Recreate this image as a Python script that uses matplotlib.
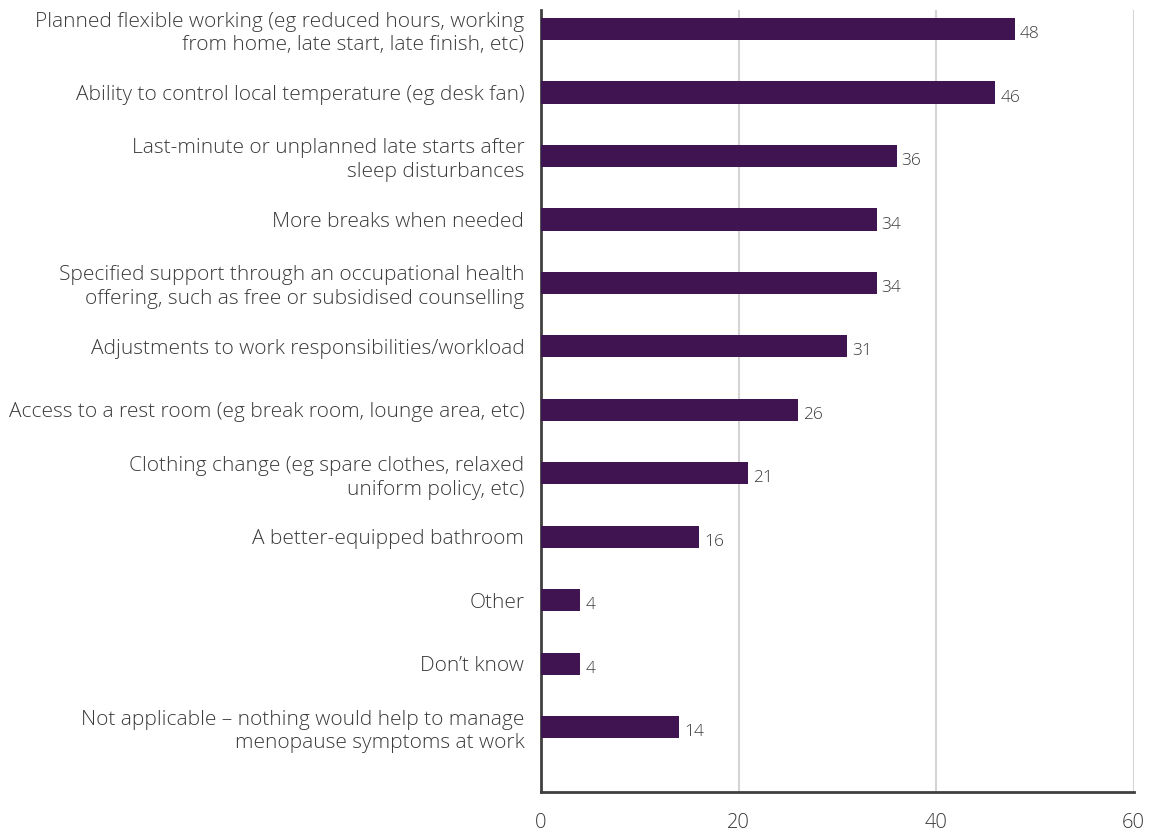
import numpy as np
import matplotlib.pyplot as plt

plt.rcParams['font.family'] = ['Open Sans', 'DejaVu Sans']

labels = [
    'Planned flexible working (eg reduced hours, working\nfrom home, late start, late finish, etc)',
    'Ability to control local temperature (eg desk fan)',
    'Last-minute or unplanned late starts after\nsleep disturbances',
    'More breaks when needed',
    'Specified support through an occupational health\noffering, such as free or subsidised counselling',
    'Adjustments to work responsibilities/workload',
    'Access to a rest room (eg break room, lounge area, etc)',
    'Clothing change (eg spare clothes, relaxed\nuniform policy, etc)',
    'A better-equipped bathroom',
    'Other',
    'Don\u2019t know',
    'Not applicable \u2013 nothing would help to manage\nmenopause symptoms at work',
]
values = [48, 46, 36, 34, 34, 31, 26, 21, 16, 4, 4, 14]
xticks = [0, 20, 40, 60]

bar_col = '#3F1450'
txt_col = '#3a3a3a'

fig = plt.figure(figsize=(11.52, 8.31), dpi=100)
ax = fig.add_axes([0.4696, 0.047, 0.5144, 0.941])

y = np.arange(len(labels))
ax.barh(y, values, height=0.35, color=bar_col, zorder=3)

# value labels, slightly below bar centre like the original
for yi, v in zip(y, values):
    ax.text(v + 0.5, yi + 0.08, str(v), va='center', ha='left',
            fontsize=12.5, color=txt_col, fontweight='light')

ax.set_xlim(0, 60)
ax.set_ylim(len(labels) - 1 + 1.02, -0.3)
ax.set_xticks(xticks)
ax.set_xticklabels([str(t) for t in xticks], fontsize=14.5, color=txt_col,
                   fontweight='light')
ax.set_yticks(y)
ax.set_yticklabels(labels, fontsize=15, color=txt_col, linespacing=1.25,
                   fontweight='light')
ax.tick_params(axis='both', length=0)
ax.tick_params(axis='x', pad=15)
ax.tick_params(axis='y', pad=12)

ax.grid(axis='x', color='#d4d4d4', linewidth=1.5, zorder=0)
for s in ['top', 'right']:
    ax.spines[s].set_visible(False)
for s in ['left', 'bottom']:
    ax.spines[s].set_color('#404040')
    ax.spines[s].set_linewidth(2)

plt.savefig('out.png', dpi=100)
